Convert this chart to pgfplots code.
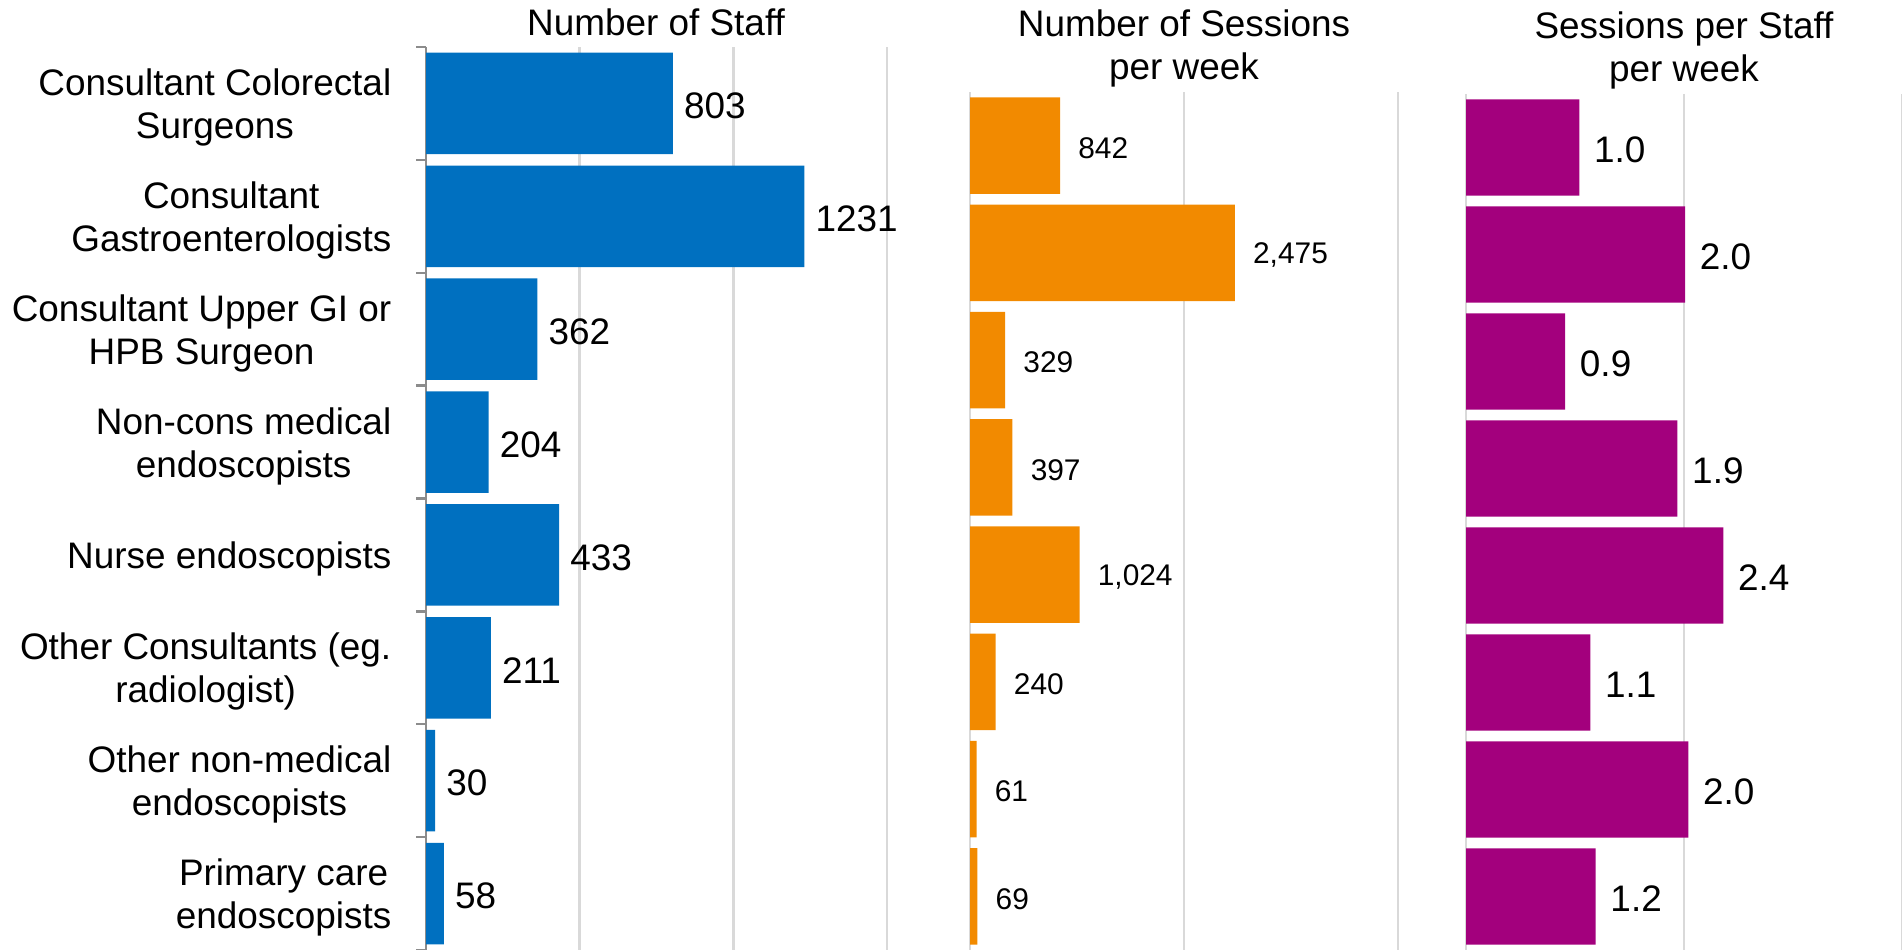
\documentclass[border=0pt]{standalone}
\usepackage{fontspec}
\setmainfont{Liberation Sans}
\usepackage{pgfplots}
\pgfplotsset{compat=1.18}
\definecolor{cblue}{HTML}{0070C0}
\definecolor{corange}{HTML}{F28A00}
\definecolor{cpurple}{HTML}{A3007D}
\definecolor{cgrid}{HTML}{D9D9D9}
\definecolor{caxis}{HTML}{8C8C8C}
\newcommand\lfont{\fontsize{10.5pt}{12.3pt}\selectfont}
\newcommand\smfont{\fontsize{8.5pt}{10pt}\selectfont}
\pgfplotsset{
  panel/.style={
    scale only axis, xbar, y dir=reverse,
    ymin=-0.5, ymax=7.5,
    bar width=0.9, bar shift=0pt,
    axis x line*=bottom, x axis line style={draw=none},
    xticklabels={}, xtick style={draw=none},
    xmajorgrids, major grid style={cgrid, line width=0.8pt},
    clip=false,
    /pgf/number format/assume math mode=true,
    point meta=x,
    nodes near coords,
    every node near coord/.append style={anchor=west, inner sep=0pt, text=black, yshift=-0.25mm},
  }
}
\begin{document}
\begin{tikzpicture}
\useasboundingbox (0,0) rectangle (190.2mm,95mm);
% Panel 1
\begin{axis}[panel,
  at={(42.6mm,0mm)}, anchor=south west,
  width=46.1mm, height=90.3mm,
  xmin=0, xmax=1500, xtick={500,1000,1500},
  axis y line*=left, y axis line style={caxis, line width=0.7pt},
  ytick={0,...,7},
  yticklabels={{Consultant Colorectal\\Surgeons},{Consultant\\Gastroenterologists},{Consultant Upper GI or\\HPB Surgeon},{Non-cons medical\\endoscopists},{Nurse endoscopists},{Other Consultants (eg.\\radiologist)},{Other non-medical\\endoscopists},{Primary care\\endoscopists}},
  yticklabel style={align=center, anchor=east, inner sep=0pt, xshift=-3.4mm, yshift=-0.4mm, font=\lfont},
  major tick length=0pt,
  minor ytick={-0.5,0.5,...,7.5}, minor tick length=1mm, tick align=outside,
  minor tick style={caxis, line width=0.7pt},
  /pgf/number format/.cd, fixed, precision=0, 1000 sep={},
]
\addplot[fill=cblue, draw=none, nodes near coords style={font=\lfont, xshift=3pt}] coordinates {
 (803,0) (1231,1) (362,2) (204,3) (433,4) (211,5) (30,6) (58,7)};
\end{axis}
% Panel 2
\begin{axis}[panel,
  at={(97.0mm,0mm)}, anchor=south west,
  width=42.8mm, height=85.8mm,
  xmin=0, xmax=4000, xtick={0,2000,4000},
  axis y line=none,
  /pgf/number format/.cd, fixed, precision=0, 1000 sep={,},
]
\addplot[fill=corange, draw=none, nodes near coords style={font=\smfont, xshift=5pt}] coordinates {
 (842,0) (2475,1) (329,2) (397,3) (1024,4) (240,5) (61,6) (69,7)};
\end{axis}
% Panel 3
\begin{axis}[panel,
  at={(146.6mm,0mm)}, anchor=south west,
  width=43.6mm, height=85.6mm,
  xmin=0, xmax=4, xtick={0,2,4},
  axis y line=none,
  /pgf/number format/.cd, fixed, fixed zerofill, precision=1,
]
\addplot[fill=cpurple, draw=none, nodes near coords style={font=\lfont, xshift=4pt}] coordinates {
 (1.04,0) (2.01,1) (0.91,2) (1.94,3) (2.36,4) (1.14,5) (2.04,6) (1.19,7)};
\end{axis}
% Titles
\node[anchor=base, font=\lfont] at (65.6mm,91.4mm) {Number of Staff};
\node[anchor=base, font=\lfont] at (118.4mm,91.35mm) {Number of Sessions};
\node[anchor=base, font=\lfont] at (118.4mm,87.05mm) {per week};
\node[anchor=base, font=\lfont] at (168.4mm,91.1mm) {Sessions per Staff};
\node[anchor=base, font=\lfont] at (168.4mm,86.8mm) {per week};
\end{tikzpicture}
\end{document}
